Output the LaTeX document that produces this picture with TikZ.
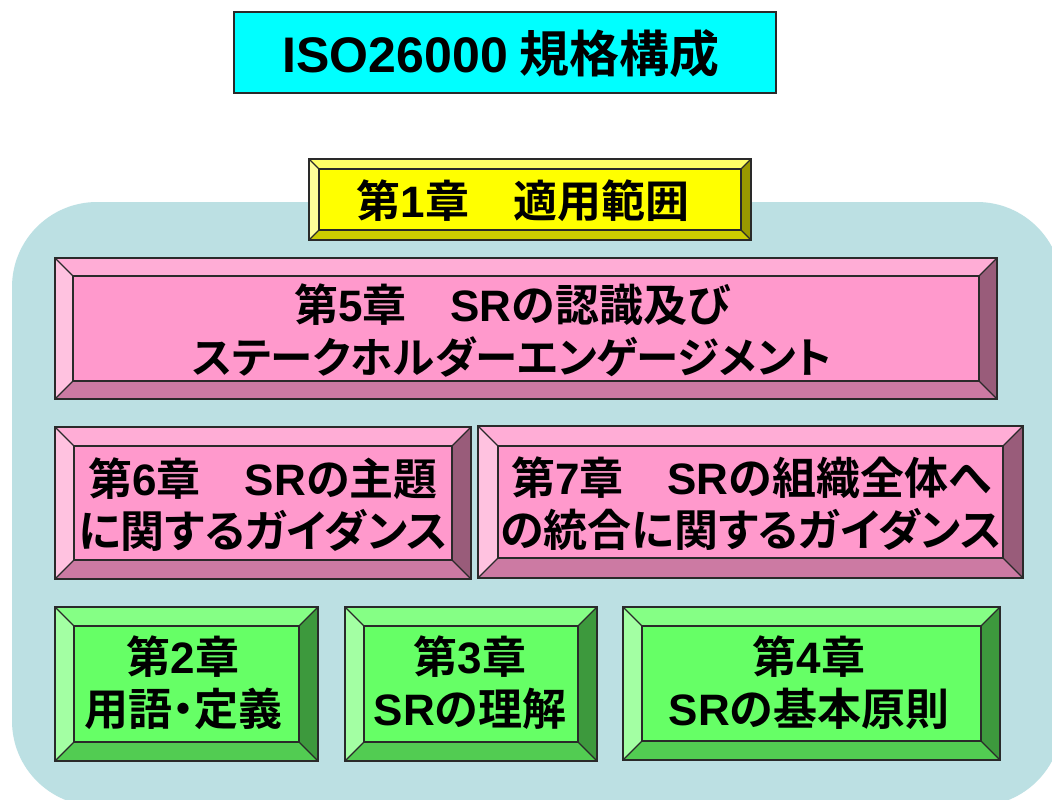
\documentclass[tikz,border=0pt]{standalone}
\usepackage{fontspec}
\newfontfamily\jp{Noto Sans CJK JP}[BoldFont={Noto Sans CJK JP Bold},RawFeature=+palt]
\newfontfamily\latn{Liberation Sans}
\newcommand\la[1]{{\latn #1}}
\definecolor{bgblue}{HTML}{BCE0E3}
\definecolor{titlecyan}{HTML}{00FFFF}
\definecolor{edge}{HTML}{2A2A2A}
\definecolor{yelF}{HTML}{FFFF00}
\definecolor{yelT}{HTML}{FFFF66}
\definecolor{yelL}{HTML}{FFFF99}
\definecolor{yelB}{HTML}{CCCC00}
\definecolor{yelR}{HTML}{999900}
\definecolor{pnkF}{HTML}{FF99CC}
\definecolor{pnkT}{HTML}{FFADD6}
\definecolor{pnkL}{HTML}{FFC2E0}
\definecolor{pnkB}{HTML}{CC7AA3}
\definecolor{pnkR}{HTML}{995C7A}
\definecolor{grnF}{HTML}{66FF66}
\definecolor{grnT}{HTML}{85FF85}
\definecolor{grnL}{HTML}{A3FFA3}
\definecolor{grnB}{HTML}{52CC52}
\definecolor{grnR}{HTML}{3D993D}
% #1 x1, #2 y1, #3 x2, #4 y2, #5 bevel, #6 colour prefix
\newcommand\bevbox[6]{%
  \fill[#6F] (#1,#2) rectangle (#3,#4);
  \fill[#6T] (#1,#2) -- (#3,#2) -- ({#3-#5},{#2+#5}) -- ({#1+#5},{#2+#5}) -- cycle;
  \fill[#6L] (#1,#2) -- ({#1+#5},{#2+#5}) -- ({#1+#5},{#4-#5}) -- (#1,#4) -- cycle;
  \fill[#6B] (#1,#4) -- ({#1+#5},{#4-#5}) -- ({#3-#5},{#4-#5}) -- (#3,#4) -- cycle;
  \fill[#6R] (#3,#2) -- (#3,#4) -- ({#3-#5},{#4-#5}) -- ({#3-#5},{#2+#5}) -- cycle;
  \draw[bevline] (#1,#2) rectangle (#3,#4);
  \draw[bevline] ({#1+#5},{#2+#5}) rectangle ({#3-#5},{#4-#5});
  \draw[bevline] (#1,#2) -- ({#1+#5},{#2+#5});
  \draw[bevline] (#3,#2) -- ({#3-#5},{#2+#5});
  \draw[bevline] (#1,#4) -- ({#1+#5},{#4-#5});
  \draw[bevline] (#3,#4) -- ({#3-#5},{#4-#5});
}
\begin{document}
\begin{tikzpicture}[x=1pt,y=-1pt,
  bevline/.style={draw=edge,line width=1.3pt,line join=miter},
  lbl/.style={font=\jp\bfseries\fontsize{44}{52}\selectfont,align=center,inner sep=0pt,text=black}]
\useasboundingbox (0,0) rectangle (1052,800);
\fill[white] (0,0) rectangle (1052,800);
% background panel
\begin{scope}
  \clip (0,0) rectangle (1052,800);
  \fill[bgblue,rounded corners=85pt] (12,202) rectangle (1062,806);
\end{scope}
% title
\fill[titlecyan] (234,12) rectangle (776,93);
\draw[draw=edge,line width=1.2pt] (234,12) rectangle (776,93);
\node[lbl,font=\jp\bfseries\fontsize{50}{52}\selectfont] (title) at (501,54) {\la{ISO26000} 規格構成};
% chapter 1
\bevbox{309}{159}{751}{240}{10}{yel}
\node[lbl] (c1) at (523,201) {第\la{1}章　適用範囲};
% chapter 5
\bevbox{55}{258}{997}{399}{18}{pnk}
\node[lbl] (c5) at (512,331) {第\la{5}章　\la{SR}の認識及び\\{\fontsize{42.5}{52}\selectfont ステークホルダーエンゲージメント}};
% chapter 6, 7
\bevbox{55}{427}{471}{579}{19}{pnk}
\node[lbl] (c6) at (263,505) {第\la{6}章　\la{SR}の主題\\に関するガイダンス};
\bevbox{478}{426}{1023}{578}{20}{pnk}
\node[lbl] (c7) at (751,504) {第\la{7}章　\la{SR}の組織全体へ\\の統合に関するガイダンス};
% chapters 2, 3, 4
\bevbox{55}{607}{318}{761}{19}{grn}
\node[lbl] (c2) at (183,683) {第\la{2}章\\用語・定義};
\bevbox{345}{607}{597}{761}{19}{grn}
\node[lbl] (c3) at (470,683) {第\la{3}章\\\la{SR}の理解};
\bevbox{623}{607}{1000}{760}{19}{grn}
\node[lbl] (c4) at (809,683) {第\la{4}章\\\la{SR}の基本原則};
\end{tikzpicture}
\end{document}
